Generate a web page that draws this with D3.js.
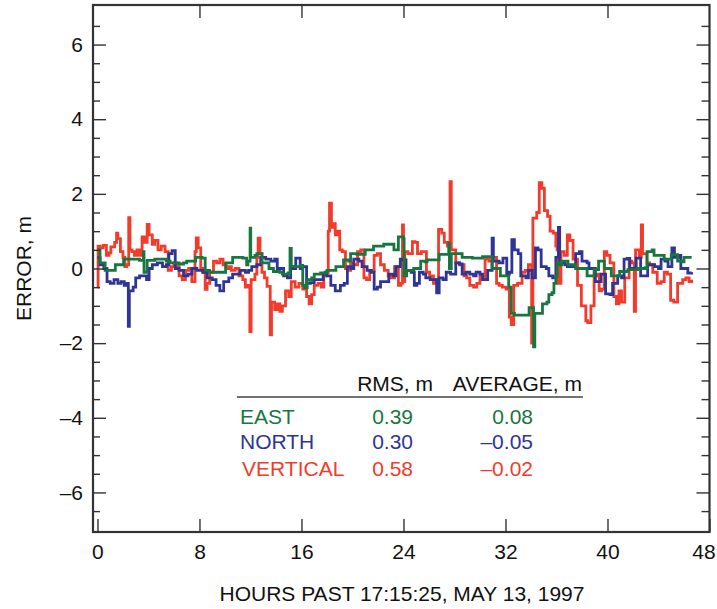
<!DOCTYPE html>
<html>
<head>
<meta charset="utf-8">
<script src="https://cdn.jsdelivr.net/npm/d3@7"></script>
<style>
  body { margin: 0; background: #fff; }
  svg { display: block; font-family: "Liberation Sans", Arial, sans-serif; }
</style>
</head>
<body>
<svg id="chart"></svg>
<script>
// error series, [hours, metres]
const east = [
  [0, 0.5], [0.2, 0.15], [0.45, 0.15], [0.6, -0.05], [1.0, -0.05], [1.25, -0.05], [1.4, 0.1], [1.85, 0.1],
  [2.05, 0.25], [2.6, 0.25], [3.3, 0.22], [3.6, 0.45], [3.65, -0.1], [3.9, 0.22], [4.5, 0.25], [5.4, 0.2],
  [5.7, 0.15], [6.4, 0.12], [6.75, 0.15], [7.0, 0.2], [7.5, 0.2], [7.7, 0.3], [8.2, 0.28], [8.45, -0.05],
  [8.8, -0.1], [9.2, -0.1], [9.9, -0.1], [10.05, 0.15], [10.4, 0.15], [10.6, 0.3], [11.0, 0.3], [11.4, 0.28],
  [11.7, 0.1], [11.8, 0.2], [11.97, 1.08], [12.02, 0.3], [12.35, 0.35], [12.5, 0.4], [12.75, 0.4], [12.9, 0.15],
  [13.25, 0.15], [13.45, 0.0], [13.7, 0.0], [13.8, -0.08], [14.3, -0.1], [14.5, -0.15], [14.95, -0.12],
  [15.1, 0.54], [15.2, 0.05], [15.9, 0.08], [16.1, -0.45], [16.25, -0.52], [16.45, -0.3], [16.8, -0.25],
  [17.0, -0.15], [17.5, -0.12], [17.85, -0.1], [18.0, -0.05], [18.5, -0.05], [18.7, 0.05], [19.15, 0.05],
  [19.3, 0.23], [19.7, 0.2], [19.85, 0.4], [20.2, 0.4], [20.35, 0.38], [20.85, 0.38], [21.0, 0.5], [21.5, 0.5],
  [21.65, 0.6], [22.3, 0.6], [22.45, 0.65], [23.1, 0.65], [23.25, 0.5], [23.5, 0.5], [23.6, 0.85], [23.85, 0.85],
  [24.0, 0.8], [24.05, -0.2], [24.25, -0.05], [24.65, -0.05], [24.8, 0.0], [25.15, 0.0], [25.35, 0.2],
  [25.7, 0.18], [25.85, 0.23], [26.6, 0.23], [26.8, 0.38], [27.4, 0.38], [27.55, 0.68], [27.6, 0.0],
  [27.75, 0.4], [28.4, 0.4], [28.6, 0.3], [29.2, 0.3], [29.4, 0.28], [30.0, 0.28], [30.2, 0.32], [30.8, 0.32],
  [30.95, 0.0], [31.35, 0.0], [31.6, -0.2], [32.1, -0.2], [32.25, -0.5], [32.45, -1.2], [32.7, -1.25],
  [33.2, -1.25], [33.7, -1.25], [33.85, -1.05], [34.0, -1.05], [34.2, -2.1], [34.3, -1.2], [34.7, -1.2],
  [34.9, -0.95], [35.25, -0.9], [35.4, -0.7], [35.65, -0.65], [35.8, -0.4], [35.95, -0.2], [36.05, 0.15],
  [36.2, 0.1], [36.4, 0.2], [36.7, 0.2], [36.9, 0.1], [37.3, 0.1], [37.5, 0.0], [38.2, 0.0], [38.4, -0.2],
  [38.8, -0.2], [38.95, -0.03], [39.3, 0.2], [39.55, 0.2], [39.75, 0.0], [40.1, 0.0], [40.3, -0.2],
  [40.75, -0.2], [40.95, -0.08], [41.4, -0.08], [41.6, -0.03], [42.2, -0.03], [42.35, 0.0], [42.95, 0.02],
  [43.1, 0.45], [43.5, 0.5], [43.65, 0.35], [44.3, 0.35], [44.45, 0.25], [44.8, 0.25], [45.0, 0.37],
  [45.35, 0.37], [45.5, 0.2], [45.85, 0.18], [46.0, 0.3], [46.6, 0.3]
];

const north = [
  [0, 0.3], [0.2, 0.1], [0.5, 0.0], [0.75, -0.35], [1.0, -0.4], [1.3, -0.3], [1.6, -0.4], [1.85, -0.35],
  [2.1, -0.45], [2.3, -0.4], [2.42, -1.55], [2.5, -0.6], [2.8, -0.5], [3.0, -0.25], [3.3, -0.2], [3.55, -0.2],
  [3.85, -0.3], [4.05, 0.0], [4.3, 0.1], [4.7, 0.15], [5.1, 0.05], [5.4, 0.1], [5.6, 0.4], [5.85, 0.48],
  [6.1, 0.0], [6.4, -0.05], [6.75, -0.2], [7.1, -0.15], [7.4, 0.0], [7.8, -0.05], [8.25, -0.1], [8.6, -0.25],
  [9.0, -0.3], [9.3, -0.45], [9.6, -0.6], [9.9, -0.35], [10.3, -0.25], [10.6, -0.15], [11.2, -0.05],
  [11.6, -0.1], [11.85, -0.05], [12.1, 0.05], [12.5, 0.1], [12.8, 0.3], [13.2, 0.25], [13.6, 0.2],
  [13.9, 0.25], [14.1, 0.0], [14.4, 0.0], [14.6, -0.2], [14.9, -0.25], [15.15, 0.05], [15.35, 0.0],
  [15.55, 0.28], [15.9, 0.0], [16.1, 0.05], [16.4, -0.4], [16.7, -0.38], [17.0, -0.3], [17.4, -0.3],
  [17.7, -0.15], [18.0, -0.2], [18.3, -0.45], [18.65, -0.6], [18.85, -0.6], [19.05, -0.45], [19.35, -0.4],
  [19.6, 0.05], [19.9, 0.0], [20.1, 0.25], [20.5, 0.2], [20.75, 0.05], [21.15, -0.05], [21.45, -0.1],
  [21.7, -0.55], [21.95, -0.5], [22.2, -0.35], [22.6, -0.35], [22.85, -0.15], [23.2, -0.2], [23.4, 0.05],
  [23.75, 0.25], [23.9, 0.23], [24.2, -0.05], [24.6, -0.1], [24.85, -0.45], [25.05, -0.4], [25.25, -0.1],
  [25.55, -0.15], [25.75, -0.25], [26.1, -0.3], [26.45, -0.3], [26.6, -0.65], [26.8, -0.25], [27.1, -0.3],
  [27.35, -0.1], [27.7, -0.15], [28.1, 0.15], [28.4, 0.12], [28.6, -0.15], [28.9, -0.1], [29.2, -0.15],
  [29.5, -0.2], [29.7, -0.1], [30.0, -0.15], [30.2, -0.3], [30.4, -0.3], [30.6, -0.05], [30.95, 0.81],
  [31.05, 0.2], [31.5, 0.15], [31.8, 0.28], [32.1, -0.15], [32.3, -0.1], [32.5, 0.77], [32.7, 0.5],
  [33.0, 0.4], [33.2, -0.2], [33.6, -0.25], [33.8, -0.05], [34.1, -0.25], [34.35, 0.55], [34.55, 0.5],
  [34.8, 0.05], [35.2, 0.0], [35.4, -0.2], [35.7, -0.25], [35.95, 0.3], [36.15, 1.1], [36.25, 0.15],
  [36.65, 0.1], [36.85, 0.05], [37.2, 0.05], [37.5, 0.4], [37.8, 0.45], [38.0, 0.2], [38.4, 0.15],
  [38.55, 0.0], [38.9, 0.0], [39.05, -0.35], [39.3, -0.35], [39.5, -0.15], [39.85, -0.68], [40.2, -0.7],
  [40.4, -0.4], [40.8, -0.2], [41.1, -0.25], [41.3, 0.25], [41.55, 0.27], [41.75, 0.0], [42.05, 0.0],
  [42.25, 0.28], [42.6, -0.2], [42.95, -0.2], [43.15, 0.1], [43.5, 0.1], [43.7, 0.05], [44.0, 0.0],
  [44.2, 0.25], [44.5, 0.2], [44.75, 0.05], [45.05, 0.55], [45.25, 0.3], [45.55, 0.35], [45.75, 0.0],
  [46.1, 0.0], [46.3, -0.12], [46.6, -0.1]
];

const vertical = [
  [0, -0.5], [0.05, 0.6], [0.2, 0.55], [0.45, 0.62], [0.7, 0.35], [0.9, 0.42], [1.05, 0.58], [1.35, 0.7],
  [1.5, 0.95], [1.6, 0.8], [1.8, 0.45], [2.0, 0.3], [2.15, 0.05], [2.3, 0.1], [2.45, 1.36], [2.55, 0.5],
  [2.7, 0.45], [2.9, 0.35], [3.1, 0.5], [3.3, 0.35], [3.5, 0.85], [3.7, 0.7], [3.9, 1.18], [4.05, 0.9],
  [4.3, 0.65], [4.5, 0.75], [4.75, 0.5], [5.0, 0.6], [5.3, 0.45], [5.55, -0.05], [5.8, 0.05], [6.0, 0.15],
  [6.2, 0.05], [6.4, -0.2], [6.65, -0.3], [6.9, -0.05], [7.15, 0.0], [7.4, -0.35], [7.65, 0.45], [7.75, 0.82],
  [7.9, 0.55], [8.1, 0.0], [8.3, -0.1], [8.45, -0.56], [8.6, -0.4], [8.8, -0.1], [9.1, 0.2], [9.35, 0.15],
  [9.6, 0.25], [9.85, 0.1], [10.1, 0.0], [10.3, 0.05], [10.5, -0.05], [10.8, 0.0], [11.1, -0.2], [11.4, -0.3],
  [11.6, -0.5], [11.8, -0.45], [11.95, -1.69], [12.05, -0.3], [12.35, -0.15], [12.5, 0.3], [12.6, 0.81],
  [12.75, 0.4], [12.9, -0.1], [13.1, -0.25], [13.3, -0.48], [13.55, -1.78], [13.65, -0.9], [13.9, -1.1],
  [14.1, -0.95], [14.3, -1.15], [14.5, -1.0], [14.75, -0.6], [15.0, -0.75], [15.2, -0.35], [15.5, -0.5],
  [15.8, -0.4], [16.1, -0.55], [16.4, -0.75], [16.6, -0.95], [16.8, -0.7], [17.0, -0.45], [17.3, -0.4],
  [17.55, -0.5], [17.75, -0.2], [17.95, -0.1], [18.1, 1.0], [18.2, 1.75], [18.35, 1.1], [18.45, 1.2],
  [18.65, 0.9], [18.85, 1.0], [19.0, 0.5], [19.2, 0.45], [19.45, 0.0], [19.65, -0.05], [19.85, 0.15],
  [20.1, 0.1], [20.4, 0.45], [20.65, 0.5], [20.9, -0.25], [21.1, -0.3], [21.35, -0.05], [21.7, 0.35],
  [21.95, 0.4], [22.2, 0.1], [22.5, -0.05], [22.8, -0.2], [23.05, -0.25], [23.3, 0.05], [23.6, -0.45],
  [23.8, -0.4], [23.92, 1.17], [24.0, -0.35], [24.1, 0.45], [24.35, 0.4], [24.7, 0.72], [24.9, 0.7],
  [25.1, 0.4], [25.4, 0.45], [25.8, -0.1], [26.05, -0.2], [26.35, -0.4], [26.6, -0.3], [26.75, 1.05],
  [27.0, 0.95], [27.2, 0.7], [27.45, 0.6], [27.65, 2.33], [27.75, 0.5], [28.1, 0.15], [28.4, 0.1],
  [28.75, -0.2], [28.95, -0.25], [29.2, -0.45], [29.5, -0.5], [29.75, -0.4], [30.0, -0.2], [30.25, -0.25],
  [30.4, 0.25], [30.7, 0.2], [30.95, 0.3], [31.3, -0.4], [31.5, -0.45], [31.75, -0.5], [32.05, -0.55],
  [32.3, -1.3], [32.45, -1.5], [32.65, -0.45], [32.95, -0.4], [33.3, -0.1], [33.55, -0.05], [33.8, 0.1],
  [34.05, -2.0], [34.15, 1.35], [34.45, 1.5], [34.65, 2.3], [34.85, 2.15], [35.05, 1.55], [35.3, 1.4],
  [35.5, 1.0], [35.75, 0.95], [35.95, 0.6], [36.05, 0.5], [36.15, -0.4], [36.35, 0.45], [36.6, 0.35],
  [36.85, 0.9], [37.05, 0.75], [37.3, 0.25], [37.65, -0.45], [37.95, -1.0], [38.3, -1.4], [38.45, -1.45],
  [38.7, -1.0], [38.95, -0.2], [39.15, -0.15], [39.35, -0.6], [39.55, -0.55], [39.75, 0.45], [39.95, 0.35],
  [40.2, 0.15], [40.5, -0.75], [40.7, -0.95], [40.9, -0.6], [41.1, -0.9], [41.35, -0.25], [41.7, 0.2],
  [41.9, 0.15], [42.1, -1.15], [42.2, 0.5], [42.5, 0.3], [42.65, 1.17], [42.75, 0.4], [43.1, 0.15],
  [43.3, 0.1], [43.55, -0.1], [43.9, -0.4], [44.2, -0.35], [44.45, -0.1], [44.7, -0.15], [44.95, -0.85],
  [45.2, -0.9], [45.5, -0.4], [45.9, -0.3], [46.15, -0.25], [46.4, -0.35], [46.6, -0.3]
];

const seriesNames = ['EAST', 'NORTH', 'VERTICAL'];
const seriesColors = ['#17773f', '#2e3594', '#f23b2b'];
const rmsValues = ['0.39', '0.30', '0.58'];
const avgValues = ['0.08', '\u20130.05', '\u20130.02'];

const xMajorTicks = [0, 8, 16, 24, 32, 40, 48];
const yMajorTicks = [-6, -4, -2, 0, 2, 4, 6];
const yMinorTicks = d3.range(-6.5, 6.51, 0.5).filter(v => v % 2 !== 0);

const width = 717;
const height = 609;
const frame = { left: 93, right: 709.5, top: 5, bottom: 532 };

const svg = d3.select('#chart')
    .attr('width', width)
    .attr('height', height);

const x = d3.scaleLinear().domain([-0.35, 48]).range([frame.left, frame.right]);
const y = d3.scaleLinear().domain([-7.06, 7.06]).range([frame.bottom, frame.top]);

const fmt = d => d < 0 ? '\u2013' + Math.abs(d) : String(d);
const axisColor = '#333';

// lines first, frame and ticks over them
const line = d3.line()
    .x(d => x(d[0]))
    .y(d => y(d[1]))
    .curve(d3.curveStepAfter);

const plot = svg.append('g');
[vertical, north, east].forEach((s, i) => {
    plot.append('path')
        .datum(s)
        .attr('d', line)
        .attr('fill', 'none')
        .attr('stroke', seriesColors[2 - i])
        .attr('stroke-width', 2.8)
        .attr('stroke-linejoin', 'miter');
});

const styleAxis = g => {
    g.select('.domain').remove();
    g.selectAll('line').attr('stroke', axisColor).attr('stroke-width', 1.4);
    g.selectAll('text').attr('fill', '#111').attr('font-size', 21)
        .attr('font-family', '"Liberation Sans", Arial, sans-serif');
};

// left: labels + inward ticks
svg.append('g')
    .attr('transform', `translate(${frame.left},0)`)
    .call(d3.axisLeft(y).tickValues(yMajorTicks).tickFormat(fmt).tickSizeInner(-13).tickSizeOuter(0).tickPadding(10))
    .call(styleAxis);
svg.append('g')
    .attr('transform', `translate(${frame.left},0)`)
    .call(d3.axisLeft(y).tickValues(yMinorTicks).tickFormat('').tickSizeInner(-7).tickSizeOuter(0))
    .call(styleAxis);

// right: ticks only
svg.append('g')
    .attr('transform', `translate(${frame.right},0)`)
    .call(d3.axisRight(y).tickValues(yMajorTicks).tickFormat('').tickSizeInner(-13).tickSizeOuter(0))
    .call(styleAxis);
svg.append('g')
    .attr('transform', `translate(${frame.right},0)`)
    .call(d3.axisRight(y).tickValues(yMinorTicks).tickFormat('').tickSizeInner(-8).tickSizeOuter(0))
    .call(styleAxis);

// bottom: labels + inward ticks
const bottomAxis = svg.append('g')
    .attr('transform', `translate(0,${frame.bottom})`)
    .call(d3.axisBottom(x).tickValues(xMajorTicks).tickFormat(fmt).tickSizeInner(-13).tickSizeOuter(0).tickPadding(12))
    .call(styleAxis);
// last label pulled in so it stays on the page
bottomAxis.selectAll('.tick text').filter(d => d === 48).attr('dx', -6);

// top: ticks only
svg.append('g')
    .attr('transform', `translate(0,${frame.top})`)
    .call(d3.axisTop(x).tickValues(xMajorTicks.slice(1, -1)).tickFormat('').tickSizeInner(-13).tickSizeOuter(0))
    .call(styleAxis);

svg.append('rect')
    .attr('x', frame.left)
    .attr('y', frame.top)
    .attr('width', frame.right - frame.left)
    .attr('height', frame.bottom - frame.top)
    .attr('fill', 'none')
    .attr('stroke', axisColor)
    .attr('stroke-width', 2.2);

// axis titles
svg.append('text')
    .attr('x', 402)
    .attr('y', 601)
    .attr('text-anchor', 'middle')
    .attr('font-size', 21)
    .attr('fill', '#111')
    .text('HOURS PAST 17:15:25, MAY 13, 1997');

svg.append('text')
    .attr('transform', `translate(31,${y(0)}) rotate(-90)`)
    .attr('text-anchor', 'middle')
    .attr('font-size', 21)
    .attr('fill', '#111')
    .text('ERROR, m');

// stats table
const table = svg.append('g').attr('font-size', 21);
table.append('text').attr('x', 433).attr('y', 391).attr('text-anchor', 'end').attr('fill', '#111').text('RMS, m');
table.append('text').attr('x', 582).attr('y', 391).attr('text-anchor', 'end').attr('fill', '#111').text('AVERAGE, m');
table.append('line')
    .attr('x1', 237).attr('x2', 583)
    .attr('y1', 397).attr('y2', 397)
    .attr('stroke', '#444').attr('stroke-width', 1.4);

const rowY = [424, 449, 476];
const nameX = [240, 240, 242];
seriesNames.forEach((name, i) => {
    table.append('text').attr('x', nameX[i]).attr('y', rowY[i]).attr('fill', seriesColors[i]).text(name);
    table.append('text').attr('x', 413).attr('y', rowY[i]).attr('text-anchor', 'end').attr('fill', seriesColors[i]).text(rmsValues[i]);
    table.append('text').attr('x', 533).attr('y', rowY[i]).attr('text-anchor', 'end').attr('fill', seriesColors[i]).text(avgValues[i]);
});
</script>
</body>
</html>
